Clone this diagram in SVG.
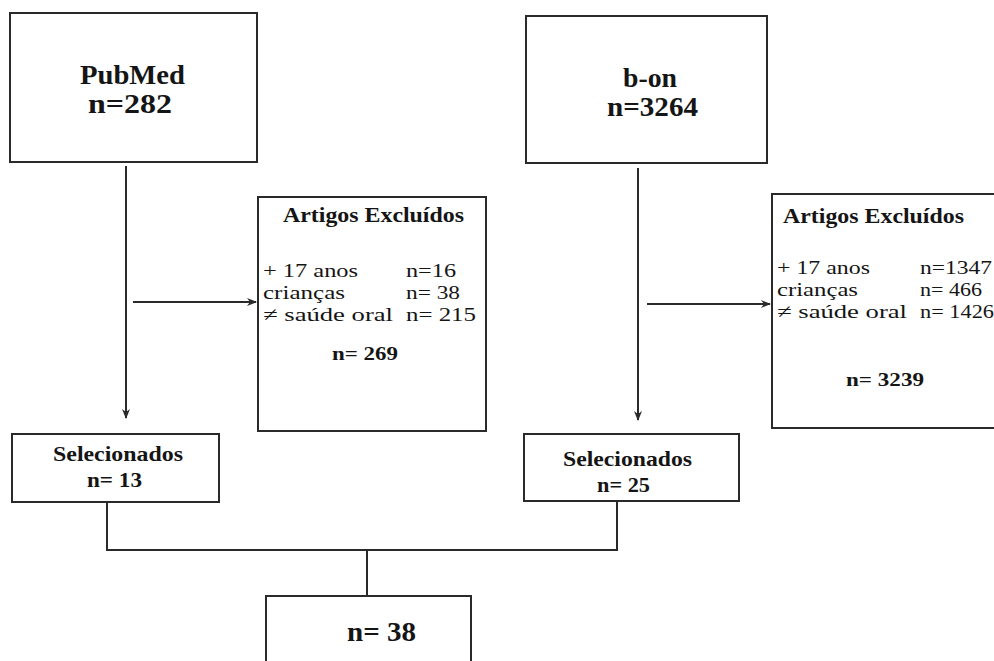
<svg xmlns="http://www.w3.org/2000/svg" width="994" height="661" viewBox="0 0 994 661">
<style>
.box{fill:#fff;stroke:#2a2a2a;stroke-width:2}
.ln{fill:none;stroke:#2a2a2a;stroke-width:2}
.t{font-family:"Liberation Serif","Times New Roman",Times,serif;fill:#151515}
.b{font-weight:bold}
.big{font-size:27px}
.mid{font-size:21px}
.row{font-size:19px}
</style>
<defs>
<marker id="ah" viewBox="0 0 10 10" refX="9" refY="5" markerWidth="10" markerHeight="10" markerUnits="userSpaceOnUse" orient="auto">
<path d="M0,1 L10,5 L0,9 L3,5 z" fill="#2a2a2a"/>
</marker>
</defs>
<rect width="994" height="661" fill="#fff"/>
<g id="connectors">
<line class="ln" x1="126" y1="166" x2="126" y2="418" marker-end="url(#ah)"/>
<line class="ln" x1="133" y1="302" x2="256" y2="302" marker-end="url(#ah)"/>
<line class="ln" x1="638" y1="168" x2="638" y2="420" marker-end="url(#ah)"/>
<line class="ln" x1="647" y1="304" x2="770" y2="304" marker-end="url(#ah)"/>
<polyline class="ln" points="107,503 107,550 617,550 617,501"/>
<line class="ln" x1="367" y1="550" x2="367" y2="596"/>
</g>
<g id="pubmed">
<rect class="box" x="10" y="13" width="247" height="149"/>
<text class="t b big" x="80" y="84" textLength="105" lengthAdjust="spacingAndGlyphs">PubMed</text>
<text class="t b big" x="88" y="113" textLength="84" lengthAdjust="spacingAndGlyphs">n=282</text>
</g>
<g id="bon">
<rect class="box" x="526" y="16" width="241" height="147"/>
<text class="t b big" x="623" y="87" textLength="54" lengthAdjust="spacingAndGlyphs">b-on</text>
<text class="t b big" x="607" y="116" textLength="91" lengthAdjust="spacingAndGlyphs">n=3264</text>
</g>
<g id="excl-left">
<rect class="box" x="258" y="197" width="228" height="234"/>
<text class="t b mid" x="283" y="222" textLength="181" lengthAdjust="spacingAndGlyphs">Artigos Excluídos</text>
<text class="t row" x="263" y="277" textLength="95" lengthAdjust="spacingAndGlyphs">+ 17 anos</text>
<text class="t row" x="406" y="277" textLength="50" lengthAdjust="spacingAndGlyphs">n=16</text>
<text class="t row" x="263" y="299" textLength="82" lengthAdjust="spacingAndGlyphs">crianças</text>
<text class="t row" x="406" y="299" textLength="54" lengthAdjust="spacingAndGlyphs">n= 38</text>
<text class="t row" x="263" y="321" textLength="130" lengthAdjust="spacingAndGlyphs">≠ saúde oral</text>
<text class="t row" x="406" y="321" textLength="70" lengthAdjust="spacingAndGlyphs">n= 215</text>
<text class="t b row" x="332" y="360" textLength="66" lengthAdjust="spacingAndGlyphs">n= 269</text>
</g>
<g id="excl-right">
<rect class="box" x="772" y="194" width="240" height="234"/>
<text class="t b mid" x="783" y="223" textLength="181" lengthAdjust="spacingAndGlyphs">Artigos Excluídos</text>
<text class="t row" x="777" y="274" textLength="93" lengthAdjust="spacingAndGlyphs">+ 17 anos</text>
<text class="t row" x="920" y="274" textLength="72" lengthAdjust="spacingAndGlyphs">n=1347</text>
<text class="t row" x="777" y="296" textLength="81" lengthAdjust="spacingAndGlyphs">crianças</text>
<text class="t row" x="920" y="296" textLength="62" lengthAdjust="spacingAndGlyphs">n= 466</text>
<text class="t row" x="777" y="318" textLength="130" lengthAdjust="spacingAndGlyphs">≠ saúde oral</text>
<text class="t row" x="920" y="318" textLength="74" lengthAdjust="spacingAndGlyphs">n= 1426</text>
<text class="t b row" x="846" y="386" textLength="78" lengthAdjust="spacingAndGlyphs">n= 3239</text>
</g>
<g id="sel-left">
<rect class="box" x="12" y="434" width="207" height="68"/>
<text class="t b mid" x="53" y="461" textLength="130" lengthAdjust="spacingAndGlyphs">Selecionados</text>
<text class="t b mid" x="87" y="487" textLength="55" lengthAdjust="spacingAndGlyphs">n= 13</text>
</g>
<g id="sel-right">
<rect class="box" x="524" y="434" width="215" height="67"/>
<text class="t b mid" x="563" y="466" textLength="129" lengthAdjust="spacingAndGlyphs">Selecionados</text>
<text class="t b mid" x="597" y="492" textLength="53" lengthAdjust="spacingAndGlyphs">n= 25</text>
</g>
<g id="total">
<rect class="box" x="266" y="596" width="205" height="80"/>
<text class="t b big" x="347" y="641" textLength="69" lengthAdjust="spacingAndGlyphs">n= 38</text>
</g>
</svg>
